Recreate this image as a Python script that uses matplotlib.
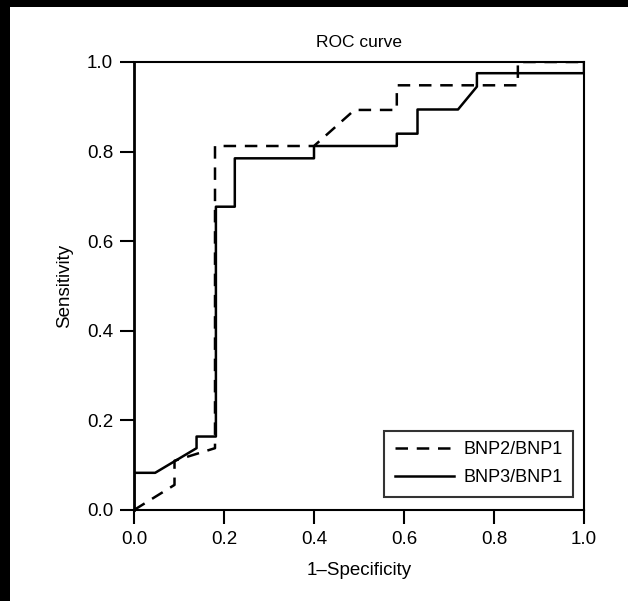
# ROC curves, BNP ratios, redrawn from a scanned figure.
import matplotlib
matplotlib.use("Agg")
import matplotlib.pyplot as plt

plt.rcParams['font.family'] = ['Liberation Sans', 'DejaVu Sans']

# BNP2/BNP1 (dashed)
fpr_bnp2 = [0.0, 0.09, 0.09, 0.18, 0.18, 0.40, 0.49, 0.584, 0.584, 0.853, 0.853, 1.0]
tpr_bnp2 = [0.0, 0.056, 0.11, 0.138, 0.8125, 0.8125, 0.893, 0.893, 0.948, 0.948, 1.0, 1.0]

# BNP3/BNP1 (solid)
fpr_bnp3 = [0.0, 0.0, 0.047, 0.139, 0.139, 0.182, 0.182, 0.224, 0.224, 0.40, 0.40,
            0.584, 0.584, 0.63, 0.63, 0.72, 0.762, 0.762, 1.0, 1.0]
tpr_bnp3 = [0.0, 0.083, 0.083, 0.138, 0.164, 0.164, 0.677, 0.677, 0.785, 0.785, 0.8125,
            0.8125, 0.84, 0.84, 0.894, 0.894, 0.945, 0.975, 0.975, 1.0]

ticks = [0.0, 0.2, 0.4, 0.6, 0.8, 1.0]

fig = plt.figure(figsize=(6.28, 6.01), dpi=100)
fig.patch.set_facecolor('white')
ax = fig.add_axes([134/628, 1 - 510/601, 450/628, 448/601])

ax.plot(fpr_bnp2, tpr_bnp2, color='black', lw=1.8, ls=(0, (5, 3.5)), label='BNP2/BNP1')
ax.plot(fpr_bnp3, tpr_bnp3, color='black', lw=1.8, label='BNP3/BNP1')

ax.set_xlim(0, 1)
ax.set_ylim(0, 1)
ax.set_xticks(ticks)
ax.set_yticks(ticks)
ax.set_xticklabels([f'{t:.1f}' for t in ticks])
ax.set_yticklabels([f'{t:.1f}' for t in ticks])
ax.tick_params(direction='out', length=10, width=1.5, labelsize=13.5, pad=5, colors='black')
for s in ax.spines.values():
    s.set_linewidth(1.5)
ax.spines['left'].set_linewidth(2)

ax.set_title('ROC curve', fontsize=12.5, pad=11)
ax.set_xlabel('1–Specificity', fontsize=13.5, labelpad=10)
ax.set_ylabel('Sensitivity', fontsize=13.5, labelpad=10)

leg = ax.legend(loc='lower right', bbox_to_anchor=(0.976, 0.029), borderaxespad=0,
                fontsize=13, frameon=True, fancybox=False, edgecolor='black',
                handlelength=3.3, borderpad=0.6, labelspacing=0.6, handletextpad=0.5)
leg.get_frame().set_linewidth(1.5)

# dark scan borders (left and top)
for rect in ([0, 0, 10/628, 1], [0, 1 - 7/601, 1, 7/601]):
    strip = fig.add_axes(rect)
    strip.set_facecolor('black')
    strip.set_xticks([])
    strip.set_yticks([])
    for s in strip.spines.values():
        s.set_visible(False)

fig.savefig('out.png', dpi=100, facecolor='white')
